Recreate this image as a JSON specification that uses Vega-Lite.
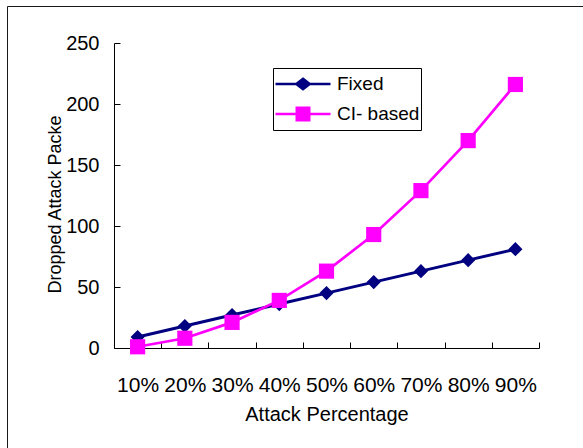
{
  "$schema": "https://vega.github.io/schema/vega-lite/v6.json",
  "width": 590,
  "height": 450,
  "autosize": {"type": "none"},
  "padding": {"left": 7, "top": 6, "right": 0, "bottom": 0},
  "background": "white",
  "config": {
    "view": {"stroke": "#1a1a1a", "strokeWidth": 1},
    "font": "Liberation Sans",
    "axis": {
      "grid": false,
      "domainColor": "black",
      "domainWidth": 1,
      "tickColor": "black",
      "tickWidth": 1,
      "tickSize": -6,
      "labelColor": "black",
      "titleColor": "black",
      "labelFont": "Liberation Sans",
      "titleFont": "Liberation Sans",
      "titleFontWeight": "normal",
      "labelFontSize": 20
    }
  },
  "data": {
    "values": [
      {"pct": "10%", "series": "Fixed", "value": 9},
      {"pct": "20%", "series": "Fixed", "value": 18},
      {"pct": "30%", "series": "Fixed", "value": 27},
      {"pct": "40%", "series": "Fixed", "value": 36},
      {"pct": "50%", "series": "Fixed", "value": 45},
      {"pct": "60%", "series": "Fixed", "value": 54},
      {"pct": "70%", "series": "Fixed", "value": 63},
      {"pct": "80%", "series": "Fixed", "value": 72},
      {"pct": "90%", "series": "Fixed", "value": 81},
      {"pct": "10%", "series": "CI- based", "value": 1},
      {"pct": "20%", "series": "CI- based", "value": 8},
      {"pct": "30%", "series": "CI- based", "value": 21},
      {"pct": "40%", "series": "CI- based", "value": 39},
      {"pct": "50%", "series": "CI- based", "value": 63},
      {"pct": "60%", "series": "CI- based", "value": 93},
      {"pct": "70%", "series": "CI- based", "value": 129},
      {"pct": "80%", "series": "CI- based", "value": 170},
      {"pct": "90%", "series": "CI- based", "value": 216}
    ]
  },
  "encoding": {
    "x": {
      "field": "pct",
      "type": "ordinal",
      "sort": null,
      "scale": {"type": "band", "range": [107, 532], "paddingInner": 0, "paddingOuter": 0},
      "axis": {
        "title": "Attack Percentage",
        "titleFontSize": 20,
        "labelFontSize": 21,
        "labelAngle": 0,
        "tickBand": "extent",
        "offset": -108,
        "labelPadding": 32,
        "titleY": 56,
        "titleBaseline": "top"
      }
    },
    "y": {
      "field": "value",
      "type": "quantitative",
      "scale": {"domain": [0, 250], "range": [342, 37], "nice": false},
      "axis": {
        "title": "Dropped Attack Packe",
        "titleFontSize": 18,
        "values": [0, 50, 100, 150, 200, 250],
        "offset": -107,
        "labelPadding": 21,
        "titleX": -54,
        "titleY": 198,
        "titleBaseline": "alphabetic",
        "titleAlign": "center"
      }
    }
  },
  "layer": [
    {
      "transform": [{"filter": "datum.series === 'Fixed'"}],
      "mark": {"type": "line", "color": "#000080", "strokeWidth": 3}
    },
    {
      "transform": [{"filter": "datum.series === 'Fixed'"}],
      "mark": {"type": "point", "shape": "diamond", "filled": true, "color": "#000080", "size": 200, "opacity": 1}
    },
    {
      "transform": [{"filter": "datum.series === 'CI- based'"}],
      "mark": {"type": "line", "color": "#FF00FF", "strokeWidth": 2.7}
    },
    {
      "transform": [{"filter": "datum.series === 'CI- based'"}],
      "mark": {"type": "point", "shape": "square", "filled": true, "color": "#FF00FF", "size": 230, "opacity": 1}
    },
    {
      "mark": {"type": "point", "filled": true, "opacity": 0},
      "encoding": {
        "fill": {
          "field": "series",
          "type": "nominal",
          "scale": {"domain": ["Fixed", "CI- based"], "range": ["#000080", "#FF00FF"]}
        },
        "stroke": {
          "field": "series",
          "type": "nominal",
          "scale": {"domain": ["Fixed", "CI- based"], "range": ["#000080", "#FF00FF"]}
        },
        "shape": {
          "field": "series",
          "type": "nominal",
          "scale": {
            "domain": ["Fixed", "CI- based"],
            "range": [
              "M-1,0H1M0,-0.19L0.245,0L0,0.19L-0.245,0Z",
              "M-1,0H1M-0.227,-0.227H0.227V0.227H-0.227Z"
            ]
          },
          "legend": {
            "title": null,
            "orient": "none",
            "legendX": 266,
            "legendY": 62,
            "strokeColor": "black",
            "fillColor": "white",
            "padding": 1,
            "clipHeight": 30,
            "rowPadding": 0,
            "symbolSize": 3025,
            "symbolStrokeWidth": 2.5,
            "symbolOpacity": 1,
            "labelFont": "Liberation Sans",
            "labelFontSize": 19,
            "labelColor": "black",
            "labelOffset": 5
          }
        }
      }
    }
  ]
}
